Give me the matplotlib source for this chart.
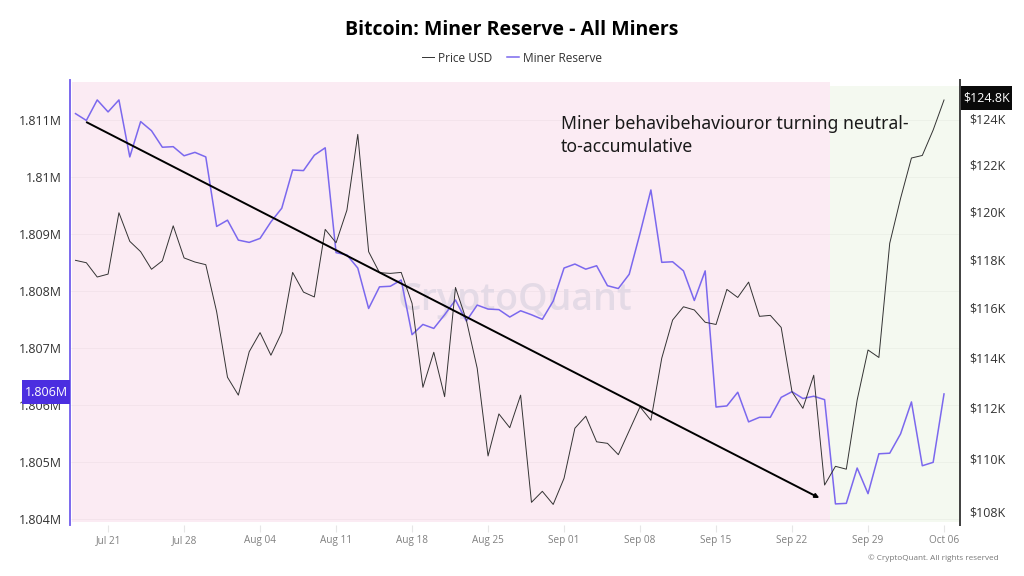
#!/usr/bin/env python
# coding: utf-8

import pandas as pd
from matplotlib import pyplot as plt
from matplotlib.patches import Rectangle

plt.rcParams['font.family'] = ['Open Sans', 'DejaVu Sans']

W, H = 1024, 576
PURPLE = '#7b68ee'
DARK = '#3a3a3a'

dates = pd.date_range('2025-07-18', '2025-10-06')

# daily values, millions of BTC
miner_reserve = [
    1.81111, 1.81099, 1.81135, 1.81114, 1.81135, 1.81035, 1.81097, 1.81081, 1.81052,
    1.81053, 1.81037, 1.81043, 1.81035, 1.80913, 1.80924, 1.80889, 1.80885, 1.80892,
    1.80921, 1.80945, 1.81012, 1.81011, 1.81038, 1.81051, 1.80867, 1.80863, 1.80840,
    1.80769, 1.80807, 1.80808, 1.80819, 1.80723, 1.80741, 1.80734, 1.80758, 1.80784,
    1.80747, 1.80775, 1.80768, 1.80767, 1.80754, 1.80765, 1.80758, 1.80750, 1.80782,
    1.80840, 1.80847, 1.80838, 1.80844, 1.80809, 1.80804, 1.80829, 1.80901, 1.80977,
    1.80850, 1.80851, 1.80835, 1.80783, 1.80835, 1.80596, 1.80598, 1.80622, 1.80570,
    1.80578, 1.80578, 1.80613, 1.80623, 1.80611, 1.80615, 1.80609, 1.80426, 1.80427,
    1.80489, 1.80444, 1.80514, 1.80515, 1.80549, 1.80605, 1.80493, 1.80499, 1.80619,
]

# thousands of USD
price_usd = [
    117.95, 117.85, 117.26, 117.38, 119.94, 118.74, 118.31, 117.58, 117.93,
    119.39, 118.05, 117.88, 117.77, 115.84, 113.20, 112.49, 114.22, 114.99,
    114.08, 115.00, 117.45, 116.64, 116.44, 119.24, 118.68, 120.05, 123.29,
    118.31, 117.44, 117.41, 117.45, 116.18, 112.80, 114.20, 112.43, 116.83,
    115.50, 113.56, 110.11, 111.75, 111.21, 112.49, 108.33, 108.75, 108.25,
    109.25, 111.19, 111.66, 110.66, 110.60, 110.16, 111.09, 112.03, 111.50,
    113.96, 115.50, 116.04, 115.91, 115.41, 115.32, 116.75, 116.42, 117.05,
    115.65, 115.69, 115.20, 112.62, 111.97, 113.28, 108.99, 109.71, 109.60,
    112.30, 114.29, 113.99, 118.66, 120.55, 122.27, 122.38, 123.48, 124.79,
]

x_tick_dates = pd.date_range('2025-07-21', '2025-10-06', freq='7D')
x_tick_labels = ['Jul 21', 'Jul 28', 'Aug 04', 'Aug 11', 'Aug 18', 'Aug 25',
                 'Sep 01', 'Sep 08', 'Sep 15', 'Sep 22', 'Sep 29', 'Oct 06']

left_ticks = [1.804, 1.805, 1.806, 1.807, 1.808, 1.809, 1.81, 1.811]
left_labels = ['1.804M', '1.805M', '1.806M', '1.807M', '1.808M', '1.809M', '1.81M', '1.811M']
right_ticks = [108, 110, 112, 114, 116, 118, 120, 122, 124]
right_labels = ['$108K', '$110K', '$112K', '$114K', '$116K', '$118K', '$120K', '$122K', '$124K']

fig = plt.figure(figsize=(W / 100, H / 100), dpi=100)
ax = fig.add_axes([70 / W, (H - 525) / H, 890 / W, 445 / H])
ax2 = ax.twinx()

xmin = pd.Timestamp('2025-07-17 11:50')
xmax = pd.Timestamp('2025-10-07 11:20')
ax.set_xlim(xmin, xmax)
ax.set_ylim(1.80389, 1.8117)
ax2.set_yscale('log')
ax2.set_ylim(107.47, 125.67)

# shaded regimes
split = pd.Timestamp('2025-09-25 12:00')
ax.axvspan(pd.Timestamp('2025-07-17 16:00'), split, ymin=0.0067, ymax=0.995, color='#fbebf3', lw=0, zorder=0)
ax.axvspan(split, pd.Timestamp('2025-10-07 09:00'), ymin=0.0067, ymax=0.986, color='#f4f9f0', lw=0, zorder=0)

ax.text(0.5, 0.505, 'CryptoQuant', transform=ax.transAxes, ha='center', va='center',
        fontsize=27, fontweight='semibold', color='#e4dae6', zorder=1)

ax.plot(dates, miner_reserve, color=PURPLE, lw=1.1, zorder=3, label='Miner Reserve')
price_line, = ax2.plot(dates, price_usd, color='#333333', lw=0.7, zorder=3, label='Price USD')

ax.set_yticks(left_ticks, left_labels)
ax2.set_yticks(right_ticks, right_labels)
ax2.minorticks_off()
ax.set_xticks(x_tick_dates, x_tick_labels)
ax.grid(axis='y', color='black', alpha=0.03, lw=0.8)
ax.set_axisbelow(True)

ax.tick_params(axis='y', length=0, pad=6, labelsize=9, labelcolor='#333333')
ax2.tick_params(axis='y', which='both', length=0, pad=6.5, labelsize=9, labelcolor='#333333')
ax.tick_params(axis='x', length=5, width=0.8, color='#e6e6e6', pad=2.5, labelsize=7.2, labelcolor='#808080')

for a in (ax, ax2):
    a.spines['top'].set_visible(False)
    a.spines['left'].set_color(PURPLE)
    a.spines['left'].set_linewidth(1.2)
    a.spines['right'].set_color('#444444')
    a.spines['right'].set_linewidth(1.4)
    a.spines['bottom'].set_color('#e2e2e2')
    a.spines['bottom'].set_linewidth(1.2)
    a.spines['bottom'].set_bounds(pd.Timestamp('2025-07-18').toordinal(), pd.Timestamp('2025-10-07').toordinal())

# trend arrow
ax2.annotate('', xy=(0.842, 0.0607), xytext=(0.0188, 0.905), xycoords='axes fraction',
             textcoords='axes fraction', zorder=5,
             arrowprops=dict(arrowstyle='-|>', color='black', lw=1.4, mutation_scale=6,
                             shrinkA=0, shrinkB=0))

ax2.text(561 / W, 1 - 135.5 / H, 'Miner behavibehaviouror turning neutral-\nto-accumulative',
         transform=fig.transFigure, fontsize=12.7, family=['Noto Sans', 'DejaVu Sans'],
         color='#1a1a1a', ha='left', va='center', linespacing=1.38, zorder=6)

fig.text(512 / W, 1 - 30 / H, 'Bitcoin: Miner Reserve - All Miners', ha='center', va='center',
         fontsize=14, fontweight='bold', color='black')

handles = [price_line, ax.get_lines()[0]]
fig.legend(handles=handles, labels=['Price USD', 'Miner Reserve'], loc='center',
           bbox_to_anchor=(512 / W, 1 - 58 / H), ncol=2, frameon=False, fontsize=8.6,
           handlelength=1.0, handletextpad=0.33, columnspacing=1.25, labelcolor='#333333')


# value badges sitting on the axes
def badge(x0, y0, x1, y1, text, color):
    fig.add_artist(Rectangle((x0 / W, 1 - y1 / H), (x1 - x0) / W, (y1 - y0) / H,
                             transform=fig.transFigure, facecolor=color, edgecolor='none', zorder=5))
    fig.text((x0 + x1) / 2 / W, 1 - (y0 + y1) / 2 / H, text, color='white', fontsize=9,
             ha='center', va='center', zorder=6)


badge(22, 380, 70, 404, left_labels[2], '#4b2ee0')
badge(961, 86, 1012, 110, '$124.8K', '#0a0a0a')

fig.text(999 / W, 1 - 558.5 / H, '© CryptoQuant. All rights reserved', ha='right', va='center',
         fontsize=5.9, color='#777777')

fig.savefig('out.png', dpi=100)
